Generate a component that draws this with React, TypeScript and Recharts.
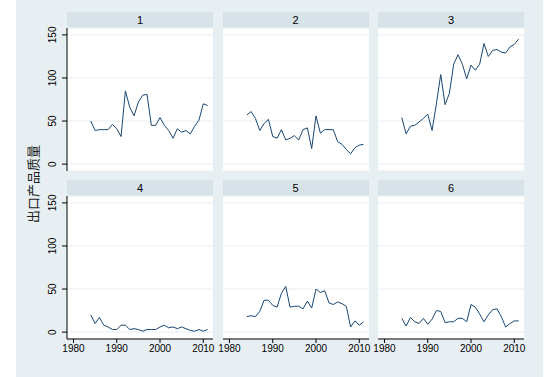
import React from "react";
import { CartesianGrid, Line, LineChart, XAxis, YAxis } from "recharts";

// 出口产品质量 by group, 1984-2011 (Stata-style by() graph)
const YEARS = [
  1984, 1985, 1986, 1987, 1988, 1989, 1990, 1991, 1992, 1993, 1994, 1995, 1996, 1997,
  1998, 1999, 2000, 2001, 2002, 2003, 2004, 2005, 2006, 2007, 2008, 2009, 2010, 2011,
];

const G1 = [50, 39, 40, 40, 40, 46, 41, 32, 85, 66, 56, 72, 80, 81, 45, 45, 54, 45, 39, 30, 41, 37, 39, 35, 44, 51, 70, 68];
const G2 = [57, 61, 53, 39, 47, 52, 32, 30, 40, 28, 30, 33, 28, 40, 42, 18, 56, 36, 40, 40, 40, 26, 23, 17, 12, 19, 22, 23];
const G3 = [54, 35, 44, 45, 49, 53, 58, 39, 70, 104, 69, 82, 116, 127, 116, 99, 115, 109, 116, 140, 125, 132, 133, 130, 129, 136, 139, 145];
const G4 = [20, 10, 17, 8, 6, 3, 3, 8, 8, 3, 4, 3, 1, 3, 3, 3, 6, 8, 5, 6, 4, 6, 4, 2, 1, 3, 1, 3];
const G5 = [18, 19, 18, 24, 37, 37, 31, 29, 45, 53, 29, 30, 30, 27, 36, 28, 50, 46, 48, 34, 32, 35, 33, 30, 6, 13, 8, 12];
const G6 = [16, 7, 17, 12, 10, 16, 9, 15, 25, 24, 11, 12, 12, 16, 16, 12, 32, 29, 21, 12, 20, 26, 27, 18, 6, 10, 13, 13];

const GROUPS = ["1", "2", "3", "4", "5", "6"];
const SERIES = [G1, G2, G3, G4, G5, G6];

const X_TICKS = [1980, 1990, 2000, 2010];
const Y_TICKS = [0, 50, 100, 150];

const NAVY = "#1a476f";
const BG = "#e8eff2";
const STRIP = "#d8e3e9";
const FONT = "'Liberation Sans', Arial, sans-serif";

const COL_LEFT = [67, 222.5, 378];
const ROW_TOP = [28, 196];
const PLOT_W = 146;
const PLOT_H = 143;
const STRIP_H = 16;
const Y_AXIS_W = 41;
const X_AXIS_H = 25;
const PAD = 14; // room round the plot so edge tick labels are not clipped

function RotatedTick(props: any) {
  const { x, y, payload } = props;
  return (
    <text
      x={x}
      y={y}
      transform={`rotate(-90, ${x}, ${y})`}
      textAnchor="middle"
      fontSize={10}
      fontFamily={FONT}
      fill="#000"
    >
      {payload.value}
    </text>
  );
}

function Panel({ idx }: { idx: number }) {
  const col = idx % 3;
  const row = Math.floor(idx / 3);
  const showY = col === 0;
  const showX = row === 1;
  const left = COL_LEFT[col];
  const top = ROW_TOP[row];
  const yw = showY ? Y_AXIS_W : 0;
  const xh = showX ? X_AXIS_H : 0;
  const data = YEARS.map((year, i) => ({ year, v: SERIES[idx][i] }));

  return (
    <>
      <div
        style={{
          position: "absolute",
          left,
          top: top - STRIP_H,
          width: PLOT_W,
          height: STRIP_H,
          background: STRIP,
          fontFamily: FONT,
          fontSize: 11,
          lineHeight: `${STRIP_H}px`,
          textAlign: "center",
          color: "#000",
        }}
      >
        {GROUPS[idx]}
      </div>
      <div
        style={{
          position: "absolute",
          left,
          top,
          width: PLOT_W,
          height: PLOT_H,
          background: "#fff",
        }}
      />
      <div style={{ position: "absolute", left: left - yw - PAD, top: top - PAD }}>
        <LineChart
          width={PLOT_W + yw + 2 * PAD}
          height={PLOT_H + xh + 2 * PAD}
          data={data}
          margin={{ top: PAD, right: PAD, bottom: PAD, left: PAD }}
        >
          <CartesianGrid vertical={false} stroke={BG} strokeWidth={1} />
          <XAxis
            dataKey="year"
            type="number"
            domain={[1978.5, 2012.25]}
            ticks={X_TICKS}
            interval={0}
            hide={!showX}
            height={X_AXIS_H}
            tickSize={4}
            tickMargin={2}
            axisLine={{ stroke: "#000" }}
            tickLine={{ stroke: "#000" }}
            tick={{ fontSize: 10, fontFamily: FONT, fill: "#000" }}
          />
          <YAxis
            type="number"
            domain={[-8, 158]}
            ticks={Y_TICKS}
            interval={0}
            hide={!showY}
            width={Y_AXIS_W}
            tickSize={5}
            tickMargin={6}
            axisLine={{ stroke: "#000" }}
            tickLine={{ stroke: "#000" }}
            tick={<RotatedTick />}
          />
          <Line
            type="linear"
            dataKey="v"
            stroke={NAVY}
            strokeWidth={1}
            dot={false}
            isAnimationActive={false}
          />
        </LineChart>
      </div>
    </>
  );
}

export default function App() {
  return (
    <div style={{ position: "absolute", left: 0, top: 0, width: 556, height: 377, background: "#fff" }}>
      <div style={{ position: "absolute", left: 16, top: 0, width: 527, height: 377, background: BG }} />
      <div
        style={{
          position: "absolute",
          left: 33 - 60,
          top: 184 - 10,
          width: 120,
          height: 20,
          lineHeight: "20px",
          textAlign: "center",
          transform: "rotate(-90deg)",
          fontFamily: "'Noto Sans CJK SC', sans-serif",
          fontSize: 13,
          color: "#222",
        }}
      >
        出口产品质量
      </div>
      {GROUPS.map((_, i) => (
        <Panel key={i} idx={i} />
      ))}
    </div>
  );
}
